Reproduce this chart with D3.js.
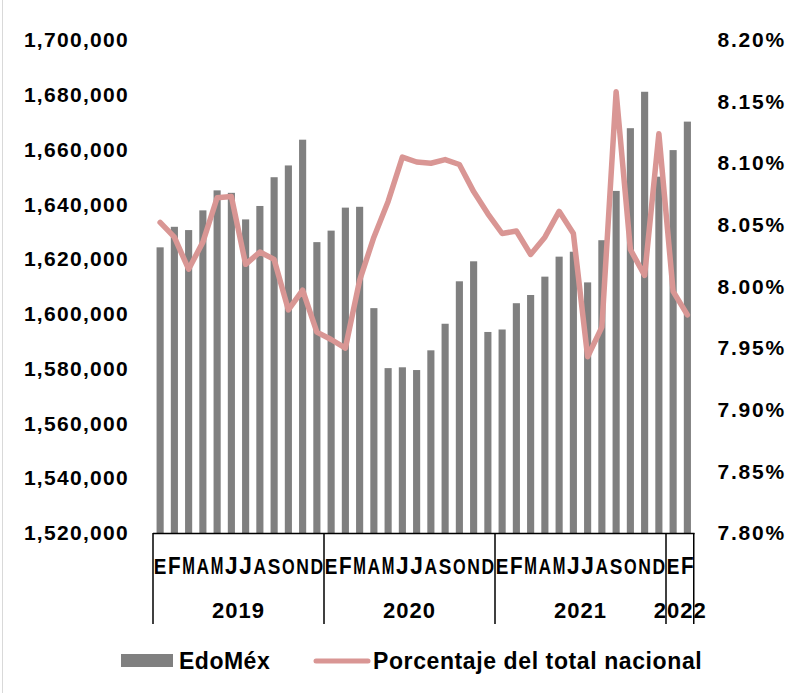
<!DOCTYPE html>
<html>
<head>
<meta charset="utf-8">
<script src="https://cdn.jsdelivr.net/npm/d3@7"></script>
<style>
  html, body { margin: 0; padding: 0; background: #fff; }
  svg { display: block; font-family: "Liberation Sans", Arial, Helvetica, sans-serif; }
</style>
</head>
<body>
<svg id="chart" width="796" height="693"></svg>
<script>
// ---- data ----
const months = ["E","F","M","A","M","J","J","A","S","O","N","D",
                "E","F","M","A","M","J","J","A","S","O","N","D",
                "E","F","M","A","M","J","J","A","S","O","N","D",
                "E","F"];
const years = ["2019", "2020", "2021", "2022"];
const yearCounts = [12, 12, 12, 2];
const edomex = [1624300, 1631800, 1630600, 1637800, 1645100, 1644200, 1634500, 1639400, 1649900, 1654200, 1663600, 1626200,
                1630400, 1638800, 1639100, 1602100, 1580200, 1580500, 1579500, 1586700, 1596400, 1611900, 1619200, 1593400,
                1594300, 1603900, 1606900, 1613600, 1620900, 1622700, 1611500, 1626900, 1644900, 1667800, 1681100, 1650100,
                1659800, 1670200];
const porcentaje = [8.052, 8.040, 8.014, 8.036, 8.072, 8.073, 8.018, 8.028, 8.022, 7.981, 7.997, 7.963,
                    7.957, 7.950, 8.005, 8.040, 8.069, 8.105, 8.101, 8.100, 8.103, 8.099, 8.077, 8.059,
                    8.043, 8.045, 8.026, 8.040, 8.061, 8.043, 7.943, 7.967, 8.158, 8.030, 8.009, 8.124,
                    7.996, 7.977];
const leftTicks = [1520000, 1540000, 1560000, 1580000, 1600000, 1620000, 1640000, 1660000, 1680000, 1700000];
const rightTicks = [7.80, 7.85, 7.90, 7.95, 8.00, 8.05, 8.10, 8.15, 8.20];
const legendLabels = ["EdoMéx", "Porcentaje del total nacional"];

// ---- layout ----
const svg = d3.select("#chart");
const plotLeft = 153, plotRight = 694.5, plotTop = 40, plotBottom = 533;
const barColor = "#808080", lineColor = "#D99694";

svg.append("rect").attr("width", 796).attr("height", 693).attr("fill", "#fff");
svg.append("line").attr("x1", 2.5).attr("x2", 2.5).attr("y1", 0).attr("y2", 693)
   .attr("stroke", "#d9d9d9").attr("stroke-width", 1);

const x = d3.scaleBand().domain(d3.range(months.length))
  .range([plotLeft, plotRight]).paddingInner(0.5).paddingOuter(0.25);
const yL = d3.scaleLinear().domain([1520000, 1700000]).range([plotBottom, plotTop]);
const yR = d3.scaleLinear().domain([7.80, 8.20]).range([plotBottom, plotTop]);

// bars
svg.append("g").selectAll("rect").data(edomex).join("rect")
  .attr("x", (d, i) => x(i))
  .attr("width", x.bandwidth())
  .attr("y", d => yL(d))
  .attr("height", d => plotBottom - yL(d))
  .attr("fill", barColor);

// line
const line = d3.line()
  .x((d, i) => x(i) + x.bandwidth() / 2)
  .y(d => yR(d));
svg.append("path").datum(porcentaje)
  .attr("d", line)
  .attr("fill", "none")
  .attr("stroke", lineColor)
  .attr("stroke-width", 5.5)
  .attr("stroke-linejoin", "round")
  .attr("stroke-linecap", "round");

// left axis
const axL = svg.append("g").attr("transform", "translate(129,0)")
  .call(d3.axisLeft(yL).tickValues(leftTicks).tickSize(0).tickPadding(0).tickFormat(d3.format(",")));
axL.select(".domain").remove();
axL.selectAll("text").attr("font-size", 21).attr("font-weight", "bold")
  .attr("letter-spacing", "1.3px").attr("fill", "#000")
  .attr("font-family", "'Liberation Sans', Arial, sans-serif");

// right axis
const axR = svg.append("g").attr("transform", "translate(786,0)")
  .call(d3.axisLeft(yR).tickValues(rightTicks).tickSize(0).tickPadding(0).tickFormat(d => d3.format(".2f")(d) + "%"));
axR.select(".domain").remove();
axR.selectAll("text").attr("font-size", 21).attr("font-weight", "bold")
  .attr("letter-spacing", "1.8px").attr("fill", "#000")
  .attr("font-family", "'Liberation Sans', Arial, sans-serif");

// bottom category axis
const gx = svg.append("g");
gx.append("line").attr("x1", plotLeft).attr("x2", plotRight)
  .attr("y1", plotBottom + 0.5).attr("y2", plotBottom + 0.5)
  .attr("stroke", "#000").attr("stroke-width", 1.5);

const step = x.step();
const mt = gx.selectAll("text.month").data(months).join("text")
  .attr("class", "month")
  .attr("x", 0)
  .attr("y", 0)
  .attr("text-anchor", "middle")
  .attr("font-size", 23)
  .attr("font-weight", "bold")
  .attr("fill", "#000")
  .text(d => d);
mt.each(function(d, i) {
  const w = this.getBBox().width;
  const maxW = step - 1.6;
  const sx = w > maxW ? maxW / w : 1;
  d3.select(this).attr("transform",
    `translate(${x(i) + x.bandwidth() / 2},574) scale(${sx},1)`);
});

// year groups
let cum = 0;
const groups = years.map((yv, k) => {
  const start = cum; cum += yearCounts[k];
  return { year: yv, start, end: cum };
});
const bx = i => plotLeft + i * step;
const seps = [0].concat(groups.map(g => g.end));
gx.selectAll("line.sep").data(seps).join("line")
  .attr("class", "sep")
  .attr("x1", d => Math.min(bx(d), plotRight - 0.75))
  .attr("x2", d => Math.min(bx(d), plotRight - 0.75))
  .attr("y1", plotBottom)
  .attr("y2", 624)
  .attr("stroke", "#000").attr("stroke-width", 1.5);

gx.selectAll("text.year").data(groups).join("text")
  .attr("class", "year")
  .attr("x", d => (bx(d.start) + bx(d.end)) / 2)
  .attr("y", 618)
  .attr("text-anchor", "middle")
  .attr("font-size", 22)
  .attr("font-weight", "bold")
  .attr("letter-spacing", "1px")
  .attr("fill", "#000")
  .text(d => d.year);

// legend
const lg = svg.append("g");
lg.append("rect").attr("x", 121).attr("y", 654).attr("width", 52).attr("height", 13).attr("fill", barColor);
lg.append("text").attr("x", 179).attr("y", 669).attr("font-size", 23).attr("font-weight", "bold")
  .attr("letter-spacing", "0.5px").attr("fill", "#000").text(legendLabels[0]);
lg.append("line").attr("x1", 316).attr("x2", 368).attr("y1", 661).attr("y2", 661)
  .attr("stroke", lineColor).attr("stroke-width", 5).attr("stroke-linecap", "round");
lg.append("text").attr("x", 373).attr("y", 669).attr("font-size", 23).attr("font-weight", "bold")
  .attr("letter-spacing", "0.6px").attr("fill", "#000").text(legendLabels[1]);
</script>
</body>
</html>
